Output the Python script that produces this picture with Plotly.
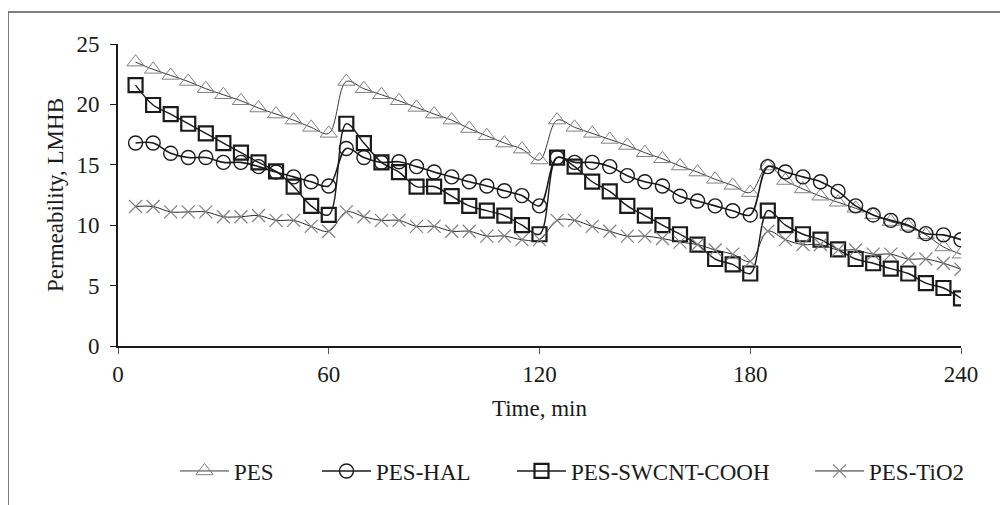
import plotly.graph_objects as go

time_min = [5, 10, 15, 20, 25, 30, 35, 40, 45, 50, 55, 60,
            65, 70, 75, 80, 85, 90, 95, 100, 105, 110, 115, 120,
            125, 130, 135, 140, 145, 150, 155, 160, 165, 170, 175, 180,
            185, 190, 195, 200, 205, 210, 215, 220, 225, 230, 235, 240]

pes = [23.5, 22.9, 22.4, 21.9, 21.3, 20.8, 20.3, 19.7, 19.2, 18.7, 18.1, 17.6,
       21.9, 21.3, 20.8, 20.3, 19.75, 19.2, 18.7, 18.0, 17.4, 16.8, 16.3, 15.4,
       18.7, 18.1, 17.6, 17.1, 16.6, 16.0, 15.5, 14.9, 14.4, 13.8, 13.3, 12.7,
       14.9, 13.7, 13.0, 12.4, 11.9, 11.4, 10.85, 10.3, 9.9, 9.2, 8.2, 7.6]

pes_hal = [16.8, 16.8, 15.95, 15.6, 15.6, 15.2, 15.2, 14.85, 14.4, 14.0, 13.6, 13.25,
           16.35, 15.6, 15.2, 15.25, 14.85, 14.4, 14.0, 13.6, 13.25, 12.85, 12.45, 11.6,
           15.6, 15.2, 15.2, 14.85, 14.1, 13.6, 13.25, 12.4, 12.0, 11.6, 11.2, 10.85,
           14.85, 14.4, 14.0, 13.6, 12.8, 11.6, 10.85, 10.4, 10.0, 9.3, 9.2, 8.8]

pes_swcnt = [21.6, 19.95, 19.2, 18.4, 17.6, 16.8, 16.0, 15.2, 14.45, 13.2, 11.6, 10.85,
             18.4, 16.8, 15.2, 14.4, 13.2, 13.2, 12.4, 11.6, 11.2, 10.8, 10.0, 9.25,
             15.6, 14.85, 13.6, 12.8, 11.6, 10.8, 10.0, 9.25, 8.4, 7.2, 6.75, 6.0,
             11.2, 10.0, 9.25, 8.8, 8.0, 7.2, 6.85, 6.4, 6.0, 5.2, 4.8, 3.95]

pes_tio2 = [11.55, 11.55, 11.1, 11.1, 11.1, 10.7, 10.7, 10.8, 10.4, 10.4, 9.9, 9.5,
            11.1, 10.7, 10.4, 10.4, 9.9, 9.9, 9.5, 9.5, 9.1, 9.1, 8.8, 8.8,
            10.4, 10.4, 9.9, 9.5, 9.1, 9.1, 8.9, 8.6, 8.4, 7.95, 7.6, 7.0,
            9.5, 8.8, 8.4, 8.4, 7.95, 7.95, 7.6, 7.6, 7.2, 7.2, 6.85, 6.35]

x_ticks = [0, 60, 120, 180, 240]
y_ticks = [0, 5, 10, 15, 20, 25]

FONT = "Liberation Serif, Times New Roman, serif"
FS = 23

fig = go.Figure()

fig.add_trace(go.Scatter(
    x=time_min, y=pes, name="PES", mode="lines+markers",
    line=dict(color="#3a3a3a", width=1, shape="spline", smoothing=1),
    marker=dict(symbol="triangle-up-open", size=15, color="#808080",
                line=dict(color="#808080", width=1)),
    legend="legend"))
fig.add_trace(go.Scatter(
    x=time_min, y=pes_hal, name="PES-HAL", mode="lines+markers",
    line=dict(color="#1a1a1a", width=1.6, shape="spline", smoothing=1),
    marker=dict(symbol="circle-open", size=14, color="#1a1a1a",
                line=dict(color="#1a1a1a", width=1.4)),
    legend="legend2"))
fig.add_trace(go.Scatter(
    x=time_min, y=pes_swcnt, name="PES-SWCNT-COOH", mode="lines+markers",
    line=dict(color="#1a1a1a", width=1.4, shape="spline", smoothing=1),
    marker=dict(symbol="square-open", size=14, color="#1a1a1a",
                line=dict(color="#1a1a1a", width=2.2)),
    legend="legend3"))
fig.add_trace(go.Scatter(
    x=time_min, y=pes_tio2, name="PES-TiO2", mode="lines+markers",
    line=dict(color="#2a2a2a", width=1, shape="spline", smoothing=1),
    marker=dict(symbol="x-thin-open", size=13, color="#808080",
                line=dict(color="#808080", width=1.2)),
    legend="legend4"))

# page body has an 8px margin; figure is placed at (8, 8)
OFF = 8
W, H = 1000, 497
L, R, T, B = 110, 47, 36, 159
pw, ph = W - L - R, H - T - B

def px_x(p):  # screen pixel -> paper x
    return (p - OFF - L) / pw

def px_y(p):  # screen pixel -> paper y
    return (H - B - (p - OFF)) / ph

leg_common = dict(orientation="h", yanchor="middle", xanchor="left",
                  itemwidth=49,
                  font=dict(family=FONT, size=FS, color="#1a1a1a"),
                  bgcolor="rgba(0,0,0,0)", borderwidth=0)

fig.update_layout(
    width=W, height=H,
    margin=dict(l=L, r=R, t=T, b=B),
    paper_bgcolor="white", plot_bgcolor="white",
    font=dict(family=FONT, size=FS, color="#1a1a1a"),
    showlegend=True,
    legend=dict(x=px_x(175), y=px_y(471), **leg_common),
    legend2=dict(x=px_x(317), y=px_y(471), **leg_common),
    legend3=dict(x=px_x(512), y=px_y(471), **leg_common),
    legend4=dict(x=px_x(810), y=px_y(471), **leg_common),
    xaxis=dict(range=[0, 240], tickvals=x_ticks, ticktext=[str(v) for v in x_ticks],
               showgrid=False, zeroline=False, showline=True, linecolor="#1a1a1a",
               linewidth=2, ticks="outside", ticklen=6, tickcolor="#555555", tickwidth=1,
               tickfont=dict(family=FONT, size=FS, color="#1a1a1a"),
               title=dict(text="Time, min", font=dict(family=FONT, size=FS, color="#1a1a1a"),
                          standoff=14)),
    yaxis=dict(range=[0, 25], tickvals=y_ticks, ticktext=[str(v) for v in y_ticks],
               showgrid=False, zeroline=False, showline=True, linecolor="#1a1a1a",
               linewidth=2, ticks="outside", ticklen=6, tickcolor="#1a1a1a", tickwidth=1,
               ticklabelstandoff=6,
               tickfont=dict(family=FONT, size=FS, color="#1a1a1a"),
               title=dict(text="Permeability, LMHB", font=dict(family=FONT, size=FS, color="#1a1a1a"),
                          standoff=6)),
    shapes=[dict(type="rect", xref="paper", yref="paper",
                 x0=px_x(8), x1=px_x(1040), y0=px_y(560), y1=px_y(12),
                 line=dict(color="#555555", width=1.5), fillcolor="rgba(0,0,0,0)",
                 layer="below")],
)

fig.write_html("out.html")
